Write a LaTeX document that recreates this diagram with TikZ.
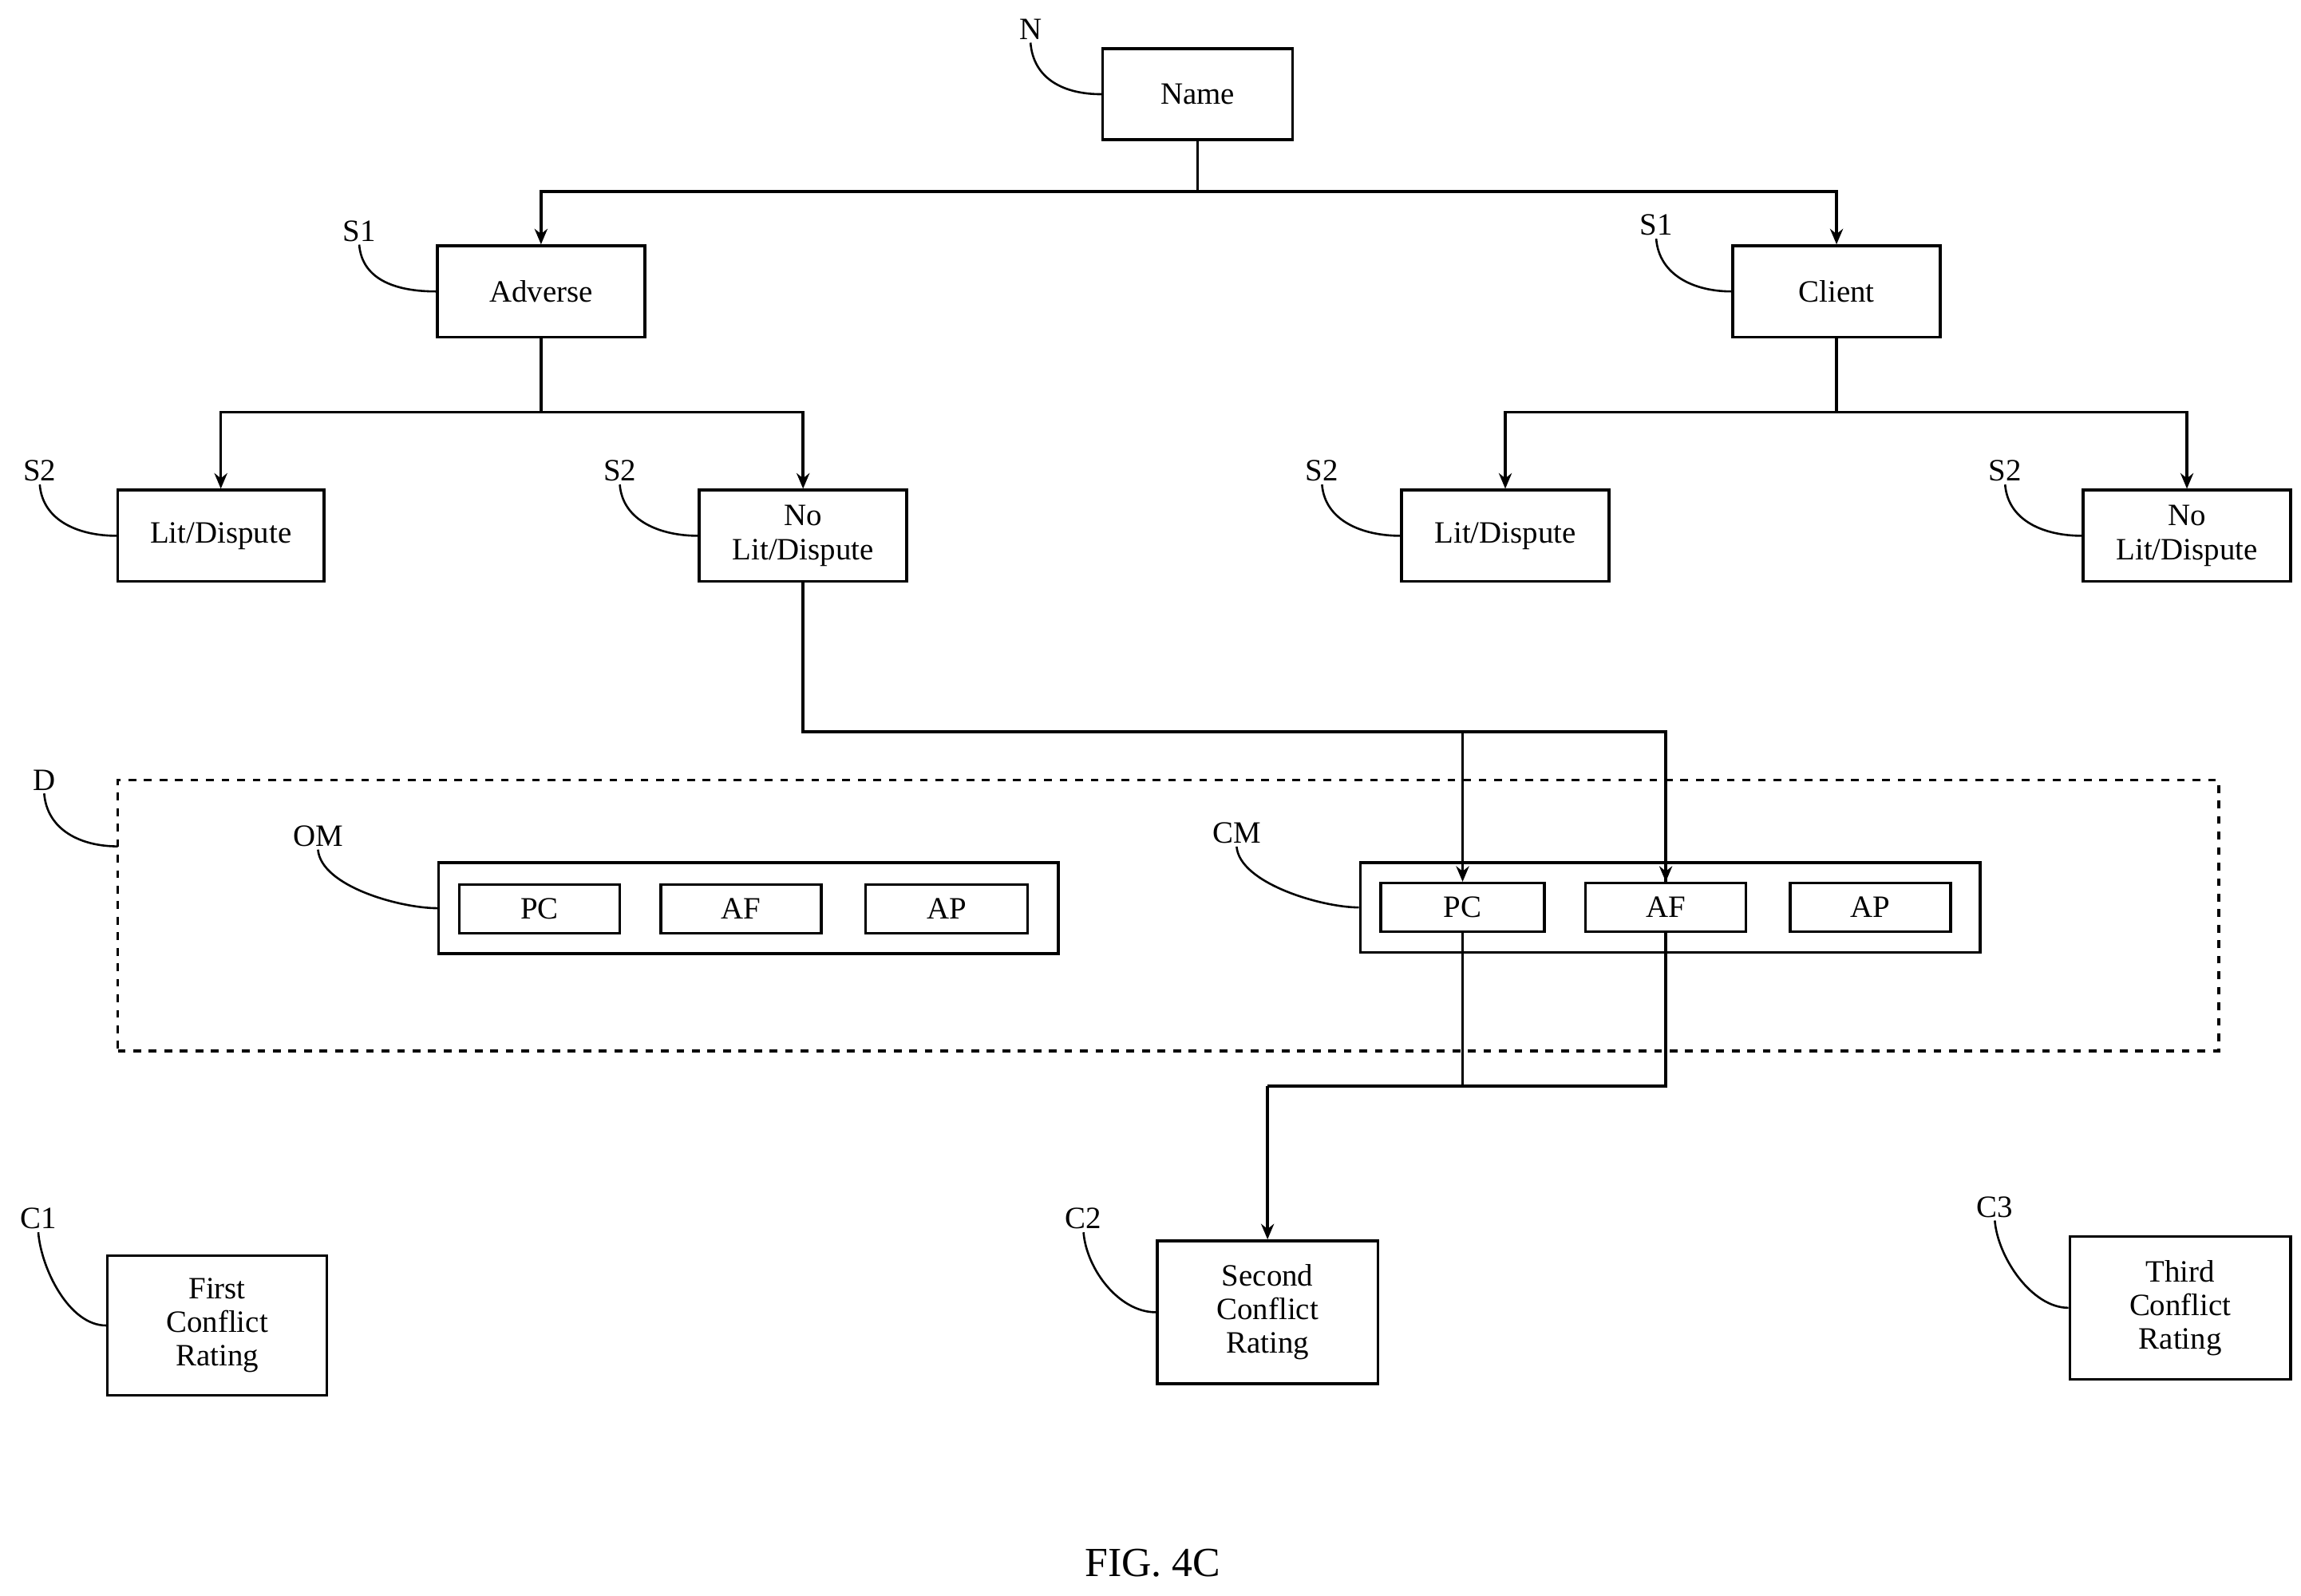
\documentclass[tikz,border=0pt]{standalone}
\usepackage{fontspec}
\setmainfont{Liberation Serif}
\usetikzlibrary{arrows.meta}
\begin{document}
\begin{tikzpicture}[x=0.02cm,y=-0.02cm,
  bx/.style 2 args={draw,line width=1.1pt,minimum width=#1*0.02cm,minimum height=#2*0.02cm,inner sep=0pt,align=center,font=\fontsize{12}{13}\selectfont},
  ln/.style={line width=1.1pt},
  ar/.style={line width=1.1pt,-{Stealth[length=6pt,width=5pt]}},
  lab/.style={font=\fontsize{12}{13}\selectfont,inner sep=1pt},
  ld/.style={line width=0.8pt}]
\useasboundingbox (0,0) rectangle (1563,1084);
% nodes
\node[bx={129}{62}] (name) at (813.5,64) {Name};
\node[bx={141}{62}] (adv) at (367.5,198) {Adverse};
\node[bx={141}{62}] (cli) at (1247.5,198) {Client};
\node[bx={140}{62}] (litl) at (150,364) {Lit/Dispute};
\node[bx={141}{62}] (nolitl) at (545.5,364) {No\\Lit/Dispute};
\node[bx={141}{62}] (litr) at (1022.5,364) {Lit/Dispute};
\node[bx={141}{62}] (nolitr) at (1485.5,364) {No\\Lit/Dispute};
\node[draw,dashed,line width=1.1pt,minimum width=1427*0.02cm,minimum height=184*0.02cm,inner sep=0pt] (D) at (793.5,622) {};
\node[bx={421}{62}] (om) at (508.5,617) {};
\node[bx={109}{33}] (ompc) at (366.5,617.5) {PC};
\node[bx={109}{33}] (omaf) at (503.5,617.5) {AF};
\node[bx={110}{33}] (omap) at (643,617.5) {AP};
\node[bx={421}{61}] (cm) at (1134.5,616.5) {};
\node[bx={111}{33}] (cmpc) at (993.5,616.5) {PC};
\node[bx={109}{33}] (cmaf) at (1131.5,616.5) {AF};
\node[bx={109}{33}] (cmap) at (1270.5,616.5) {AP};
\node[bx={149}{95}] (c1) at (147.5,900.5) {First\\Conflict\\Rating};
\node[bx={150}{97}] (c2) at (861,891.5) {Second\\Conflict\\Rating};
\node[bx={150}{97}] (c3) at (1481,888.5) {Third\\Conflict\\Rating};
% labels
\node[lab] (lN) at (700,20) {N};
\node[lab] (lS1a) at (244,157) {S1};
\node[lab] (lS1b) at (1125,153) {S1};
\node[lab] (lS2a) at (27,320) {S2};
\node[lab] (lS2b) at (421,320) {S2};
\node[lab] (lS2c) at (898,320) {S2};
\node[lab] (lS2d) at (1362,320) {S2};
\node[lab] (lD) at (30,530) {D};
\node[lab] (lOM) at (216,568) {OM};
\node[lab] (lCM) at (840,566) {CM};
\node[lab] (lC1) at (26,828) {C1};
\node[lab] (lC2) at (736,828) {C2};
\node[lab] (lC3) at (1355,820) {C3};
\node[font=\fontsize{16}{18}\selectfont] (fig) at (783,1062) {FIG. 4C};
% leaders
\foreach \l/\b in {lN/name,lS1a/adv,lS1b/cli,lS2a/litl,lS2b/nolitl,lS2c/litr,lS2d/nolitr,lOM/om,lCM/cm,lC1/c1,lC2/c2,lC3/c3}
  \draw[ld] (\l.south) .. controls +(2,25) and +(-25,0) .. (\b.west);
\coordinate (dl) at (80,575);
\draw[ld] (lD.south) .. controls +(2,25) and +(-25,0) .. (dl);
% connectors
\coordinate (j1) at (813.5,130);
\draw[ln] (name.south) -- (j1);
\draw[ar] (j1) -| (adv.north);
\draw[ar] (j1) -| (cli.north);
\coordinate (j2) at (367.5,280);
\draw[ln] (adv.south) -- (j2);
\draw[ar] (j2) -| (litl.north);
\draw[ar] (j2) -| (nolitl.north);
\coordinate (j3) at (1247.5,280);
\draw[ln] (cli.south) -- (j3);
\draw[ar] (j3) -| (litr.north);
\draw[ar] (j3) -| (nolitr.north);
\coordinate (j4) at (545.5,497);
\draw[ln] (nolitl.south) -- (j4) -| (cmaf.north);
\draw[ar] (993.5,497) -- (cmpc.north);
\draw[ar] (1131.5,497) -- (cmaf.north);
\coordinate (j5) at (861,738);
\draw[ln] (cmpc.south) |- (j5);
\draw[ln] (cmaf.south) |- (j5);
\draw[ar] (j5) -- (c2.north);
\end{tikzpicture}
\end{document}
